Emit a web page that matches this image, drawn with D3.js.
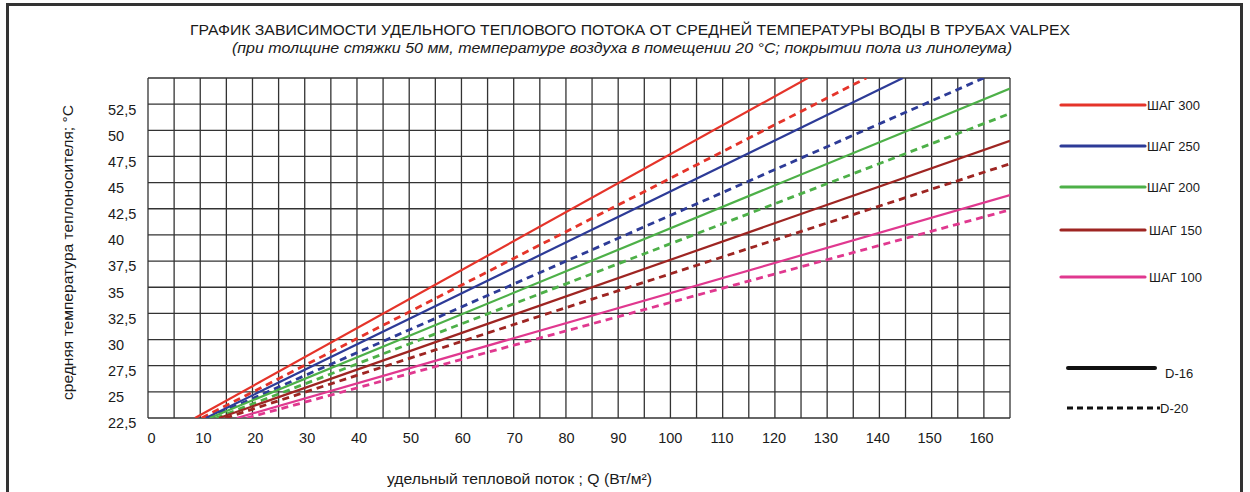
<!DOCTYPE html>
<html><head><meta charset="utf-8">
<script src="https://cdn.jsdelivr.net/npm/d3@7"></script>
<style>
body{margin:0;background:#fff;}
text{font-family:"Liberation Sans", Arial, Helvetica, sans-serif;fill:#1a1a1a;}
</style>
</head><body>
<svg id="chart" width="1250" height="492"></svg>
<script>
// ---- data ----
const categories = ["ШАГ 300", "ШАГ 250", "ШАГ 200", "ШАГ 150", "ШАГ 100"];
const seriesColors = ["#e5342a", "#2d3b97", "#4db048", "#9e2522", "#e0388f"];
// D-16 (solid): [Q, t] at start and end of each line
const d16Start = [[9, 22.5], [11.1, 22.5], [11.8, 22.5], [13.6, 22.5], [17, 22.5]];
const d16End   = [[126.3, 55], [144.5, 55], [165, 54.0], [165, 49.0], [165, 43.8]];
// D-20 (dashed)
const d20Start = [[10.3, 22.5], [11.5, 22.5], [13, 22.5], [14.8, 22.5], [18.9, 22.5]];
const d20End   = [[137.5, 55], [160, 55], [165, 51.6], [165, 46.8], [165, 42.4]];
const xTickValues = [0, 10, 20, 30, 40, 50, 60, 70, 80, 90, 100, 110, 120, 130, 140, 150, 160];
const yTickValues = [22.5, 25, 27.5, 30, 32.5, 35, 37.5, 40, 42.5, 45, 47.5, 50, 52.5];
const yTickLabels = ["22,5", "25", "27,5", "30", "32,5", "35", "37,5", "40", "42,5", "45", "47,5", "50", "52,5"];
const pipeLabels = ["D-16", "D-20"];

// ---- layout ----
const svg = d3.select("#chart");
const L = 148, R = 1010, T = 78, B = 418;
const x = d3.scaleLinear().domain([0, 165]).range([L, R]);
const y = d3.scaleLinear().domain([22.5, 55]).range([B, T]);
const xLabelScale = d3.scaleLinear().domain([0, 160]).range([151, 981]);

// outer frame
svg.append("rect").attr("x", 7.5).attr("y", 4.5).attr("width", 1234).attr("height", 500)
  .attr("fill", "#fff").attr("stroke", "#333").attr("stroke-width", 3);

// titles
svg.append("text").attr("x", 630).attr("y", 35).attr("text-anchor", "middle")
  .attr("font-size", 14.5).attr("textLength", 880).attr("lengthAdjust", "spacingAndGlyphs")
  .text("ГРАФИК ЗАВИСИМОСТИ УДЕЛЬНОГО ТЕПЛОВОГО ПОТОКА ОТ СРЕДНЕЙ ТЕМПЕРАТУРЫ ВОДЫ В ТРУБАХ VALPEX");
svg.append("text").attr("x", 232).attr("y", 53).attr("text-anchor", "start")
  .attr("font-size", 14).attr("font-style", "italic")
  .attr("textLength", 780).attr("lengthAdjust", "spacingAndGlyphs")
  .text("(при толщине стяжки 50 мм, температуре воздуха в помещении 20 °C; покрытии пола из линолеума)");

// grid
const grid = svg.append("g").attr("stroke", "#333").attr("stroke-width", 1.3);
grid.selectAll("line.v").data(d3.range(0, 166, 5)).join("line").attr("class", "v")
  .attr("x1", d => x(d)).attr("x2", d => x(d)).attr("y1", T).attr("y2", B);
grid.selectAll("line.h").data(d3.range(22.5, 55.1, 2.5)).join("line").attr("class", "h")
  .attr("y1", d => y(d)).attr("y2", d => y(d)).attr("x1", L).attr("x2", R);

// x tick labels
const xAxis = d3.axisBottom(xLabelScale).tickValues(xTickValues).tickSize(0).tickPadding(0).tickFormat(d3.format("d"));
const xg = svg.append("g").attr("transform", `translate(0,${B + 25})`).call(xAxis);
xg.select(".domain").remove();
xg.selectAll("text").attr("font-size", 14.5).attr("dy", 0).attr("fill", "#1a1a1a")
  .attr("font-family", "Liberation Sans, Arial, sans-serif");

// y tick labels (left-aligned)
const yAxis = d3.axisLeft(y).tickValues(yTickValues).tickSize(0).tickPadding(0)
  .tickFormat((d, i) => yTickLabels[i]);
const yg = svg.append("g").attr("transform", `translate(${108},0)`).call(yAxis);
yg.select(".domain").remove();
yg.selectAll("text").attr("text-anchor", "start").attr("x", 0).attr("dy", "0.68em")
  .attr("font-size", 14.5).attr("fill", "#1a1a1a").attr("font-family", "Liberation Sans, Arial, sans-serif");

// axis titles
svg.append("text").attr("transform", `translate(73,400) rotate(-90)`)
  .attr("text-anchor", "start").attr("font-size", 15)
  .attr("textLength", 295).attr("lengthAdjust", "spacingAndGlyphs")
  .text("средняя температура теплоносителя; °C");
svg.append("text").attr("x", 387).attr("y", 484).attr("text-anchor", "start").attr("font-size", 15)
  .attr("textLength", 265).attr("lengthAdjust", "spacingAndGlyphs")
  .text("удельный тепловой поток ; Q (Вт/м²)");

// lines
svg.append("clipPath").attr("id", "plotclip").append("rect")
  .attr("x", L).attr("y", T).attr("width", R - L).attr("height", B - T);
const line = d3.line().x(d => x(d[0])).y(d => y(d[1]));
const lines = svg.append("g").attr("clip-path", "url(#plotclip)").attr("fill", "none");
categories.forEach((c, i) => {
  lines.append("path").attr("d", line([d20Start[i], d20End[i]]))
    .attr("stroke", seriesColors[i]).attr("stroke-width", 2.8).attr("stroke-dasharray", "7,5");
  lines.append("path").attr("d", line([d16Start[i], d16End[i]]))
    .attr("stroke", seriesColors[i]).attr("stroke-width", 2.2);
});

// legend
const legY = [105, 146, 187, 230, 277];
const leg = svg.append("g");
categories.forEach((c, i) => {
  leg.append("line").attr("x1", 1061).attr("x2", 1145).attr("y1", legY[i]).attr("y2", legY[i])
    .attr("stroke", seriesColors[i]).attr("stroke-width", 3.2).attr("stroke-linecap", "round");
  leg.append("text").attr("x", 1147 + (i >= 3 ? 2 : 0)).attr("y", legY[i] + 5).attr("font-size", 13)
    .attr("fill", "#444").text(c);
});
leg.append("line").attr("x1", 1068).attr("x2", 1155).attr("y1", 368).attr("y2", 368)
  .attr("stroke", "#111").attr("stroke-width", 4).attr("stroke-linecap", "round");
leg.append("text").attr("x", 1165).attr("y", 378).attr("font-size", 13).attr("fill", "#444").text(pipeLabels[0]);
leg.append("line").attr("x1", 1067).attr("x2", 1160).attr("y1", 408).attr("y2", 408)
  .attr("stroke", "#111").attr("stroke-width", 3).attr("stroke-dasharray", "6,4");
leg.append("text").attr("x", 1160).attr("y", 413).attr("font-size", 13).attr("fill", "#444").text(pipeLabels[1]);
</script>
</body></html>
